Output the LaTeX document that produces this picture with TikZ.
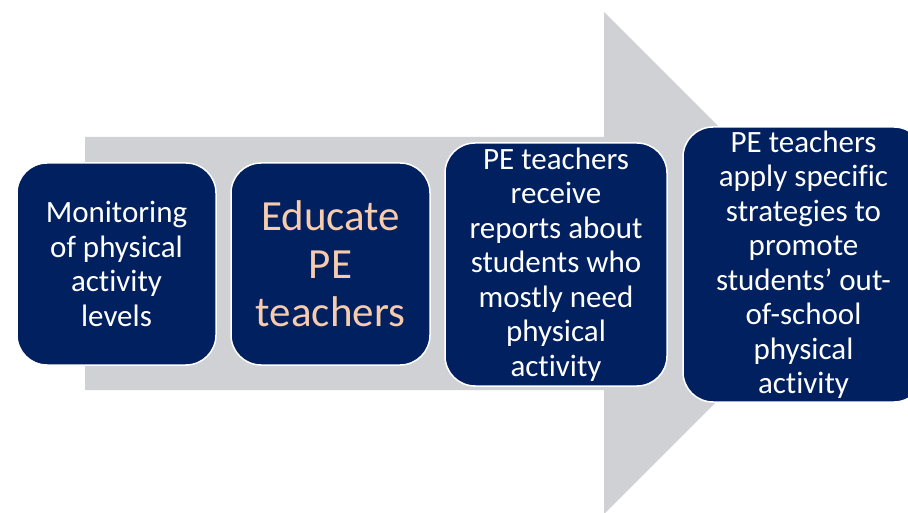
\documentclass[tikz,border=0pt]{standalone}
\usepackage{fontspec}
\setmainfont{Carlito}[Ligatures=NoCommon]
\definecolor{navy}{HTML}{002060}
\definecolor{shaftgray}{HTML}{D0D1D5}
\definecolor{peach}{HTML}{F8CBAD}
\tikzset{
  stepbox/.style={draw=white, line width=1.5pt, fill=navy, rounded corners=30pt,
    text=white, align=center, inner sep=0pt,
    font=\fontsize{31}{34.5}\selectfont},
  bigtext/.style={text=peach, font=\fontsize{43}{48}\selectfont}
}
\begin{document}
\begin{tikzpicture}[x=1pt, y=-1pt]
  \useasboundingbox (0,0) rectangle (908,513);
  \clip (0,0) rectangle (908,513);
  % block arrow behind the steps
  \fill[shaftgray] (85,137) -- (604,137) -- (604,12) -- (855,263)
    -- (604,514) -- (604,390) -- (85,390) -- cycle;
  % steps
  \node[stepbox, minimum width=199pt, minimum height=202pt] (s1) at (116.5,264)
    {Monitoring\\of physical\\activity\\levels};
  \node[stepbox, bigtext, minimum width=199pt, minimum height=202pt] (s2) at (330.5,264)
    {Educate\\PE\\teachers};
  \node[stepbox, minimum width=222pt, minimum height=243pt] (s3) at (556,264.5)
    {PE teachers\\receive\\reports about\\students who\\mostly need\\physical\\activity};
  \node[stepbox, minimum width=241pt, minimum height=275pt] (s4) at (803.5,264.5)
    {PE teachers\\apply specific\\strategies to\\promote\\students’ out-\\of-school\\physical\\activity};
\end{tikzpicture}
\end{document}
